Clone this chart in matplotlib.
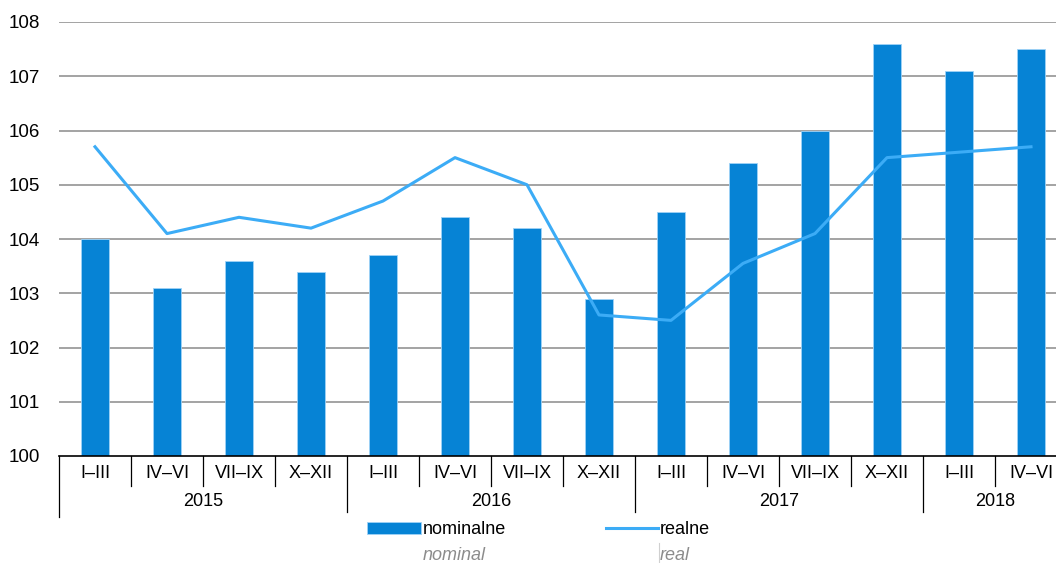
import matplotlib
matplotlib.use('Agg')
import matplotlib.pyplot as plt
import matplotlib.transforms as mtransforms
from matplotlib.lines import Line2D

quarters = ['I–III', 'IV–VI', 'VII–IX', 'X–XII'] * 3 + ['I–III', 'IV–VI']
years = ['2015', '2016', '2017', '2018']
year_counts = [4, 4, 4, 2]
nominal = [104.0, 103.1, 103.6, 103.4, 103.7, 104.4, 104.2, 102.9,
           104.5, 105.4, 106.0, 107.6, 107.1, 107.5]
real = [105.7, 104.1, 104.4, 104.2, 104.7, 105.5, 105.0, 102.6,
        102.5, 103.55, 104.1, 105.5, 105.6, 105.7]
yticks = [100, 101, 102, 103, 104, 105, 106, 107, 108]

BAR_COLOR = '#0683d5'
LINE_COLOR = '#3cacf6'
plt.rcParams['font.family'] = ['Liberation Sans', 'DejaVu Sans']

W, H = 1056, 563
fig = plt.figure(figsize=(W / 100, H / 100), dpi=100)
# axes runs a bit past the right edge, as in the reference
ax = fig.add_axes([59 / W, (H - 456) / H, 1008 / W, 434 / H])

x = list(range(len(nominal)))
ax.bar(x, nominal, width=0.39, bottom=0, color=BAR_COLOR,
       edgecolor='#9fd3f7', linewidth=0.6, zorder=2)
ax.plot(x, real, color=LINE_COLOR, lw=2.2, zorder=3)

ax.set_xlim(-0.5, len(x) - 0.5)
ax.set_ylim(100, 108)
ax.set_yticks(yticks)
ax.set_yticklabels([str(v) for v in yticks], fontsize=13.5)
ax.tick_params(axis='y', length=0, pad=14)
ax.set_xticks([])
for v in yticks[1:]:
    ax.axhline(v, color='#8a8a8a', lw=1.1, zorder=1)
for s in ['top', 'right', 'left']:
    ax.spines[s].set_visible(False)
ax.spines['bottom'].set_color('black')
ax.spines['bottom'].set_linewidth(1.2)

# category axis: quarter and year rows below the plot
trans = mtransforms.blended_transform_factory(ax.transData, ax.transAxes)
px = 1 / 434.0
for i, q in enumerate(quarters):
    ax.text(i, -17 * px, q, transform=trans, ha='center', va='center', fontsize=13)

year_starts = [sum(year_counts[:k]) for k in range(len(year_counts))]
for i in range(1, len(x)):
    if i in year_starts:
        continue
    ax.plot([i - 0.5, i - 0.5], [0, -30 * px], transform=trans, color='black',
            lw=0.9, clip_on=False)
for k, (yr, start) in enumerate(zip(years, year_starts)):
    bottom = -61 * px if k == 0 else -56 * px
    ax.plot([start - 0.5, start - 0.5], [0, bottom], transform=trans,
            color='black', lw=0.9, clip_on=False)
    mid = start + (year_counts[k] - 1) / 2
    ax.text(mid, -46 * px, yr, transform=trans, ha='center', va='center', fontsize=13)

# legend, drawn in pixel coordinates of the figure
ax_leg = fig.add_axes([0, 0, 1, 1], facecolor='none')
ax_leg.set_xlim(0, W)
ax_leg.set_ylim(H, 0)
ax_leg.axis('off')
ax_leg.add_patch(plt.Rectangle((367, 522), 54, 12, facecolor=BAR_COLOR,
                               edgecolor='#9fd3f7', lw=0.6))
ax_leg.text(423, 529, 'nominalne', ha='left', va='center', fontsize=13)
ax_leg.text(423, 555, 'nominal', ha='left', va='center', fontsize=13,
            style='italic', color='#8c8c8c')
ax_leg.add_line(Line2D([606, 658], [528, 528], color=LINE_COLOR, lw=2.2))
ax_leg.text(660, 529, 'realne', ha='left', va='center', fontsize=13)
ax_leg.text(660, 555, 'real', ha='left', va='center', fontsize=13,
            style='italic', color='#8c8c8c')
ax_leg.plot([659, 659], [543, 565], color='#d0d0d0', lw=0.8)

fig.savefig('out.png', dpi=100)
